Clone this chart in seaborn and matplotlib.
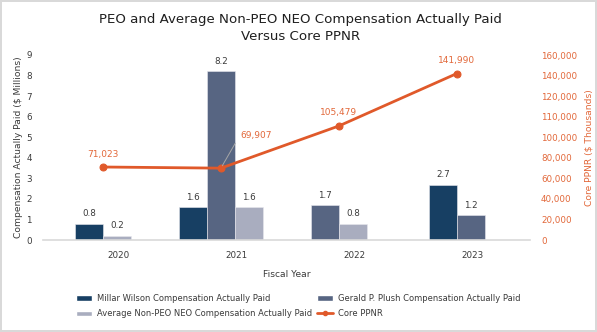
import numpy as np
import pandas as pd
import matplotlib
matplotlib.use("Agg")
import matplotlib.pyplot as plt
from matplotlib.patches import Patch
from matplotlib.lines import Line2D
from matplotlib.ticker import FuncFormatter
import seaborn as sns

# ---------------- data ----------------
years = ["2020", "2021", "2022", "2023"]
series_names = [
    "Millar Wilson Compensation Actually Paid",
    "Gerald P. Plush Compensation Actually Paid",
    "Average Non-PEO NEO Compensation Actually Paid",
]
millar_wilson = [0.8, 1.6, np.nan, 2.7]
gerald_plush = [np.nan, 8.2, 1.7, 1.2]
avg_non_peo = [0.2, 1.6, 0.8, np.nan]
core_ppnr = [71023, 69907, 105479, 141990]
left_ticks = [0, 1, 2, 3, 4, 5, 6, 7, 8, 9]
right_ticks = [0, 20000, 40000, 60000, 80000, 100000, 110000, 120000, 140000, 160000]

# ---------------- style ----------------
sns.set_theme(style="white")
plt.rcParams["font.family"] = ["DejaVu Sans"]

navy = "#173F63"
slate = "#576582"
lightgray = "#A9ADBF"
orange = "#E0592A"
orange_txt = "#E2683A"
txt = "#3A3A3A"
palette = dict(zip(series_names, [navy, slate, lightgray]))

BAR_W = 0.237

rows = []
for i, y in enumerate(years):
    vals = [(s, v) for s, v in zip(series_names, [millar_wilson[i], gerald_plush[i], avg_non_peo[i]])
            if not np.isnan(v)]
    n = len(vals)
    for k, (s, v) in enumerate(vals):
        rows.append({"year": y, "series": s, "value": v, "xpos": i + (k - (n - 1) / 2) * BAR_W})
df = pd.DataFrame(rows)

fig = plt.figure(figsize=(5.97, 3.32), dpi=100)
fig.patch.set_edgecolor("#D9D9D9")
fig.patch.set_linewidth(1.5)
ax = fig.add_axes([43 / 597, 1 - 240 / 332, (530 - 43) / 597, (240 - 55) / 332])

sns.barplot(data=df, x="xpos", y="value", hue="series", hue_order=series_names,
            palette=palette, native_scale=True, dodge=False, width=1.0,
            errorbar=None, legend=False, ax=ax, edgecolor="#E8E8EE", linewidth=0.4,
            saturation=1)

for cont in ax.containers:
    ax.bar_label(cont, fmt="%.1f", padding=4, fontsize=6.3, color=txt)

ax.set_ylim(0, 9)
ax.set_yticks(left_ticks)
ax.set_xlim(-0.508, 3.62)
ax.set_xticks(np.arange(len(years)) + 0.13)
ax.set_xticklabels(years)
ax.tick_params(axis="both", length=0, labelsize=6.3, colors=txt, pad=8)
ax.tick_params(axis="x", pad=8)
for s in ["top", "right", "left"]:
    ax.spines[s].set_visible(False)
ax.spines["bottom"].set_color("#D9D9D9")
ax.spines["bottom"].set_linewidth(1.2)
ax.set_xlabel("Fiscal Year", fontsize=6.6, color=txt, labelpad=7)
ax.set_ylabel("Compensation Actually Paid ($ Millions)", fontsize=6.6, color=txt, labelpad=2)

# ---------------- line on secondary axis ----------------
ax2 = ax.twinx()
sns.lineplot(x=np.arange(len(years)), y=core_ppnr, ax=ax2, color=orange, linewidth=2,
             marker="o", markersize=5, markeredgecolor=orange)
pos = np.arange(len(right_ticks), dtype=float)
vals = np.array(right_ticks, dtype=float)
ax2.set_yscale("function", functions=(lambda v: np.interp(v, vals, pos),
                                      lambda p: np.interp(p, pos, vals)))
ax2.set_ylim(0, 160000)
ax2.set_yticks(right_ticks)
ax2.yaxis.set_major_formatter(FuncFormatter(lambda v, p: f"{v:,.0f}"))
ax2.tick_params(axis="y", length=0, labelsize=6.3, colors=orange_txt, pad=8)
for s in ["top", "right", "left", "bottom"]:
    ax2.spines[s].set_visible(False)
ax2.set_ylabel("Core PPNR ($ Thousands)", fontsize=6.6, color=orange_txt, labelpad=5)
ax.set_xlim(-0.508, 3.62)

for i, v in enumerate(core_ppnr):
    if i == 1:
        ax2.annotate(f"{v:,}", (i, v), xytext=(19, 33), textcoords="offset pixels",
                     ha="left", va="center", fontsize=6.5, color=orange_txt,
                     arrowprops=dict(arrowstyle="-", color="#A6A6A6", lw=0.7,
                                     relpos=(0, 0.5), shrinkA=2, shrinkB=2))
    else:
        ax2.annotate(f"{v:,}", (i, v), xytext=(0, 13), textcoords="offset pixels",
                     ha="center", va="center", fontsize=6.5, color=orange_txt)

fig.text(0.503, 1 - 28 / 332,
         "PEO and Average Non-PEO NEO Compensation Actually Paid\nVersus Core PPNR",
         ha="center", va="center", fontsize=9.6, color="#1F1F1F", linespacing=1.4)

handles = [
    Patch(facecolor=navy, label=series_names[0]),
    Patch(facecolor=lightgray, label=series_names[2]),
    Patch(facecolor=slate, label=series_names[1]),
    Line2D([0], [0], color=orange, lw=2, marker="o", markersize=3, label="Core PPNR"),
]
fig.legend(handles=handles, ncol=2, loc="upper left", bbox_to_anchor=(0.118, 1 - 288 / 332),
           frameon=False, fontsize=6.0, handlelength=1.9, handleheight=0.6,
           handletextpad=0.6, columnspacing=0.6, labelspacing=0.75, labelcolor=txt,
           borderpad=0.2)

fig.savefig("out.png", dpi=100)
